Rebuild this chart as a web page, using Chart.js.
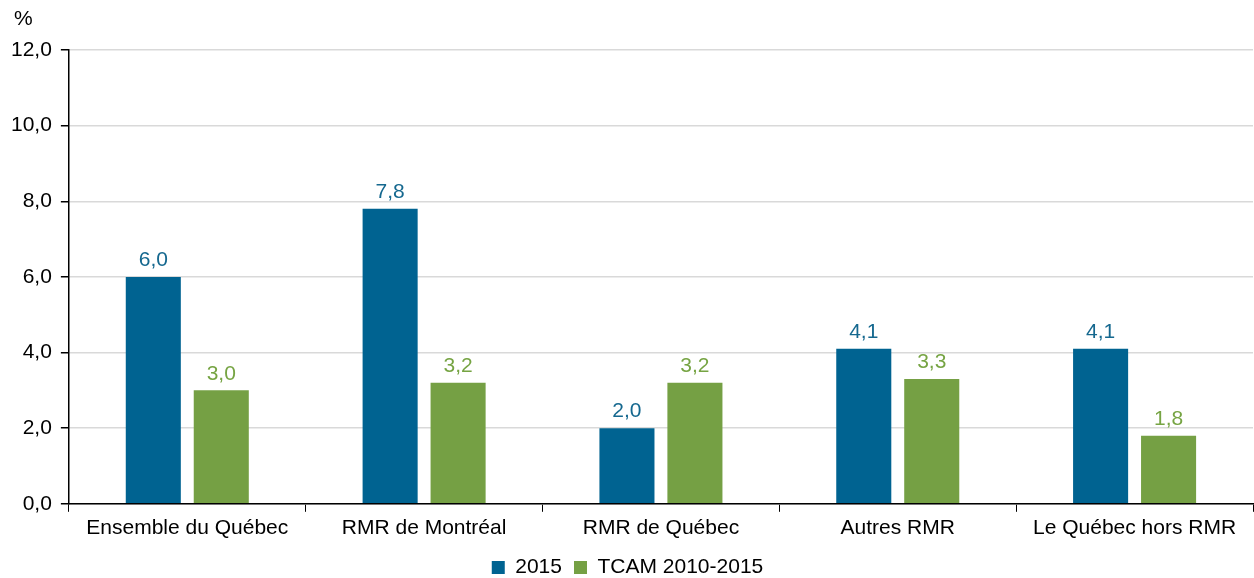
<!DOCTYPE html>
<html lang="fr">
<head>
    <meta charset="UTF-8">
    <title>Croissance 2015 et TCAM 2010-2015</title>
    <script src="https://cdn.jsdelivr.net/npm/chart.js@4.4.0/dist/chart.umd.min.js"></script>
    <style>
        body {
            margin: 0;
            background: #fff;
            font-family: "Liberation Sans", Arial, sans-serif;
        }
        .chart-container {
            position: relative;
            width: 1254px;
            height: 578px;
        }
    </style>
</head>
<body>
    <div class="chart-container">
        <canvas id="chart"></canvas>
    </div>

    <script>
        const categories = ['Ensemble du Québec', 'RMR de Montréal', 'RMR de Québec', 'Autres RMR', 'Le Québec hors RMR'];
        const values2015 = [6.0, 7.8, 2.0, 4.1, 4.1];
        const valuesTcam = [3.0, 3.2, 3.2, 3.3, 1.8];
        const seriesNames = ['2015', 'TCAM 2010-2015'];
        const yTicks = [0, 2, 4, 6, 8, 10, 12];

        const blue = '#006391';
        const green = '#75a044';
        const font = { family: '"Liberation Sans", Arial, sans-serif', size: 21 };

        function fmt(v) {
            return v.toFixed(1).replace('.', ',');
        }

        // étiquettes de valeurs au-dessus des barres + le "%" en haut à gauche
        const valueLabels = {
            id: 'valueLabels',
            afterDatasetsDraw(chart) {
                const ctx = chart.ctx;
                ctx.save();
                ctx.font = font.size + 'px ' + font.family;
                ctx.textAlign = 'center';
                ctx.textBaseline = 'bottom';
                chart.data.datasets.forEach((ds, i) => {
                    const meta = chart.getDatasetMeta(i);
                    meta.data.forEach((bar, j) => {
                        ctx.fillStyle = ds.labelColor;
                        ctx.fillText(fmt(ds.data[j]), bar.x, bar.y - 6);
                    });
                });
                ctx.fillStyle = '#000';
                ctx.textAlign = 'left';
                ctx.textBaseline = 'middle';
                ctx.fillText('%', 14, 19);
                ctx.restore();
            }
        };

        new Chart(document.getElementById('chart'), {
            type: 'bar',
            data: {
                labels: categories,
                datasets: [{
                    label: seriesNames[0],
                    data: values2015,
                    backgroundColor: blue,
                    labelColor: '#15688f',
                    barPercentage: 0.81,
                    categoryPercentage: 0.574
                }, {
                    label: seriesNames[1],
                    data: valuesTcam,
                    backgroundColor: green,
                    labelColor: '#76a443',
                    barPercentage: 0.81,
                    categoryPercentage: 0.574
                }]
            },
            options: {
                responsive: true,
                maintainAspectRatio: false,
                animation: false,
                layout: { padding: { top: 50, right: 1, left: 2, bottom: -10 } },
                scales: {
                    x: {
                        grid: {
                            offset: true,
                            drawOnChartArea: false,
                            tickColor: '#000',
                            tickLength: 8
                        },
                        border: { color: '#000', width: 1.5 },
                        ticks: { color: '#000', font: font, padding: 4, maxRotation: 0 }
                    },
                    y: {
                        min: 0,
                        max: 12,
                        afterBuildTicks(axis) {
                            axis.ticks = yTicks.map(v => ({ value: v }));
                        },
                        grid: {
                            color: '#d9d9d9',
                            lineWidth: 1.5,
                            tickColor: '#000',
                            tickLength: 8
                        },
                        border: { color: '#000', width: 1.5 },
                        ticks: {
                            color: '#000',
                            font: font,
                            padding: 9,
                            callback: v => fmt(v)
                        }
                    }
                },
                plugins: {
                    legend: {
                        position: 'bottom',
                        labels: {
                            color: '#000',
                            font: font,
                            boxWidth: 13,
                            boxHeight: 13,
                            padding: 12
                        }
                    },
                    tooltip: { enabled: false }
                }
            },
            plugins: [valueLabels]
        });
    </script>
</body>
</html>
